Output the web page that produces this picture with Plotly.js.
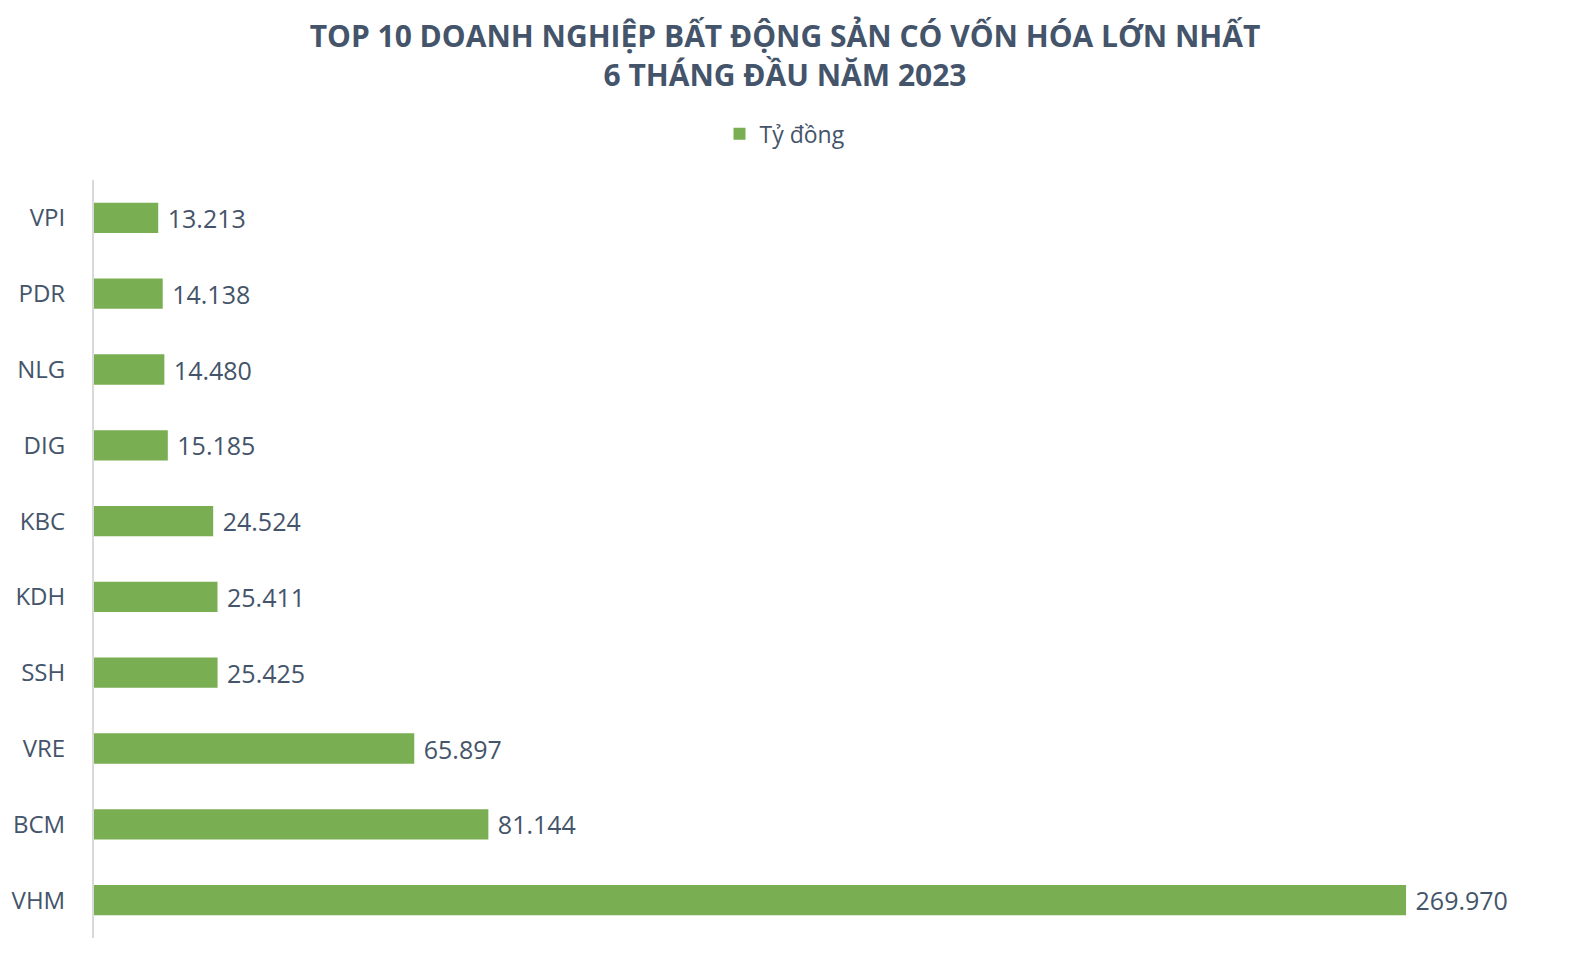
<!DOCTYPE html>
<html>
<head>
<meta charset="utf-8">
<script src="https://cdn.plot.ly/plotly-3.0.1.min.js"></script>
<style>body{margin:0;background:#fff}#chart{width:1570px;height:956px}</style>
</head>
<body>
<div id="chart"></div>
<script>
// vốn hóa, tỷ đồng
var companies = ['VPI', 'PDR', 'NLG', 'DIG', 'KBC', 'KDH', 'SSH', 'VRE', 'BCM', 'VHM'];
var capValues = [13213, 14138, 14480, 15185, 24524, 25411, 25425, 65897, 81144, 269970];
var seriesName = 'Tỷ đồng';

var textColor = '#44546a';
var fontFam = '"Open Sans", "Noto Sans", sans-serif';

var trace = {
  type: 'bar',
  orientation: 'h',
  name: seriesName,
  y: companies,
  x: capValues,
  width: 0.4,
  marker: {color: '#7aae52'},
  text: capValues,
  texttemplate: ' %{x:,}',
  textposition: 'outside',
  constraintext: 'none',
  cliponaxis: false,
  textfont: {family: fontFam, size: 25, color: textColor},
  hoverinfo: 'y+x'
};

var layout = {
  width: 1570,
  height: 956,
  separators: ',.',
  paper_bgcolor: '#fff',
  plot_bgcolor: '#fff',
  margin: {l: 94, r: 18, t: 180, b: 18},
  title: {
    text: 'TOP 10 DOANH NGHIỆP BẤT ĐỘNG SẢN CÓ VỐN HÓA LỚN NHẤT<br>6 THÁNG ĐẦU NĂM 2023',
    font: {family: fontFam, size: 30, color: textColor, weight: 'bold'},
    x: 0.5, xref: 'container', xanchor: 'center',
    y: 0.951, yref: 'container', yanchor: 'middle'
  },
  showlegend: true,
  legend: {
    orientation: 'h', x: 0.5, xanchor: 'center', xref: 'container',
    y: 0.86, yref: 'container', yanchor: 'middle',
    font: {family: fontFam, size: 23, color: textColor},
    itemwidth: 30
  },
  xaxis: {
    range: [0, 300000],
    showgrid: false, zeroline: false, showticklabels: false, showline: false
  },
  yaxis: {
    categoryorder: 'array', categoryarray: companies,
    autorange: 'reversed',
    showline: true, linecolor: '#d9d9d9', linewidth: 2,
    showgrid: false, ticks: '', ticklabelstandoff: 22,
    tickfont: {family: fontFam, size: 24, color: textColor}
  }
};

Plotly.newPlot('chart', [trace], layout, {displayModeBar: false});
</script>
</body>
</html>
